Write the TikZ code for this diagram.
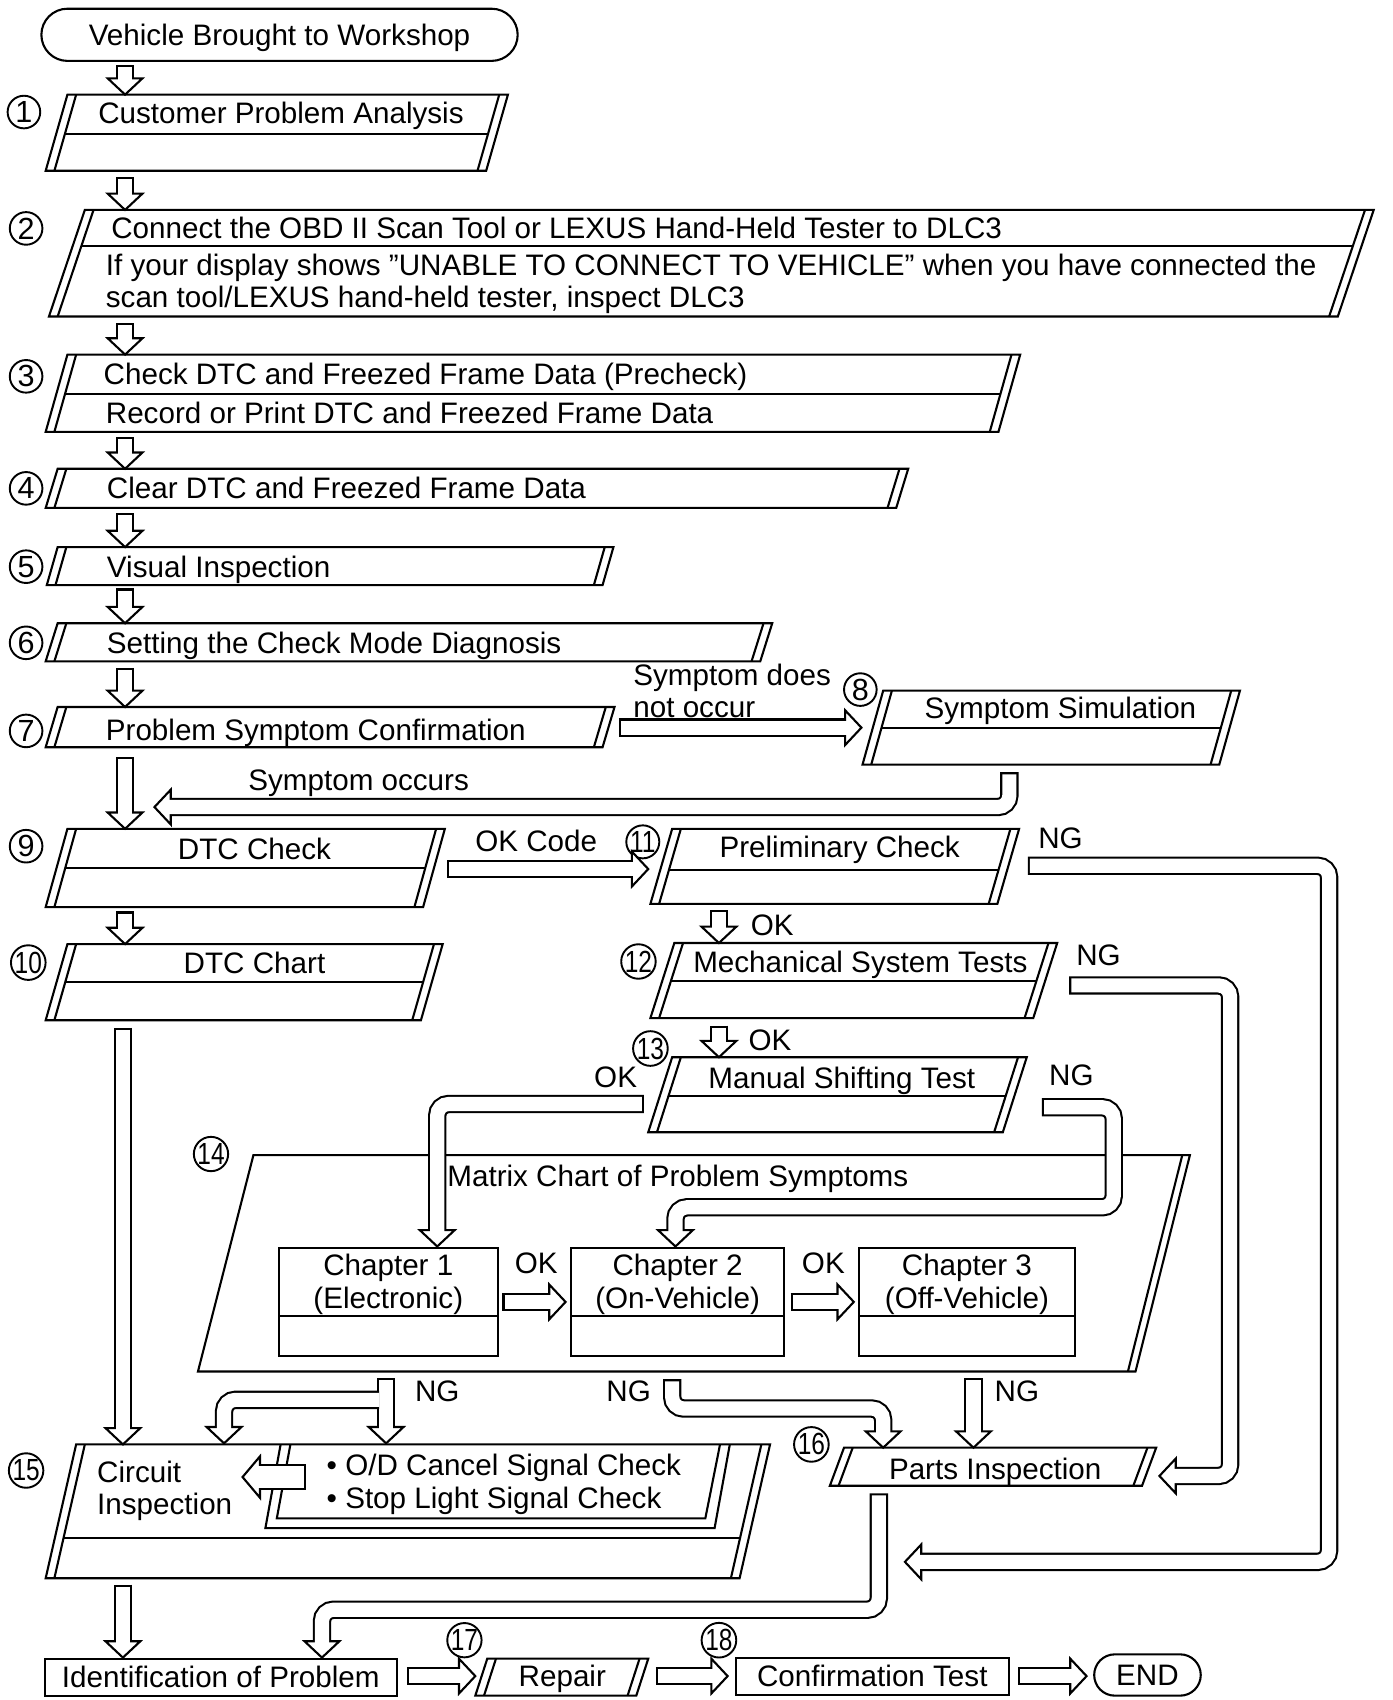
\documentclass[tikz,border=0pt]{standalone}
\usepackage{fontspec}
\setmainfont{Liberation Sans}
\usetikzlibrary{calc,shapes.misc}

\newcommand{\headlen}{15}
\newcommand{\headwid}{16}
\newcommand{\shaftwid}{9.6pt}
\newcommand{\shaftcore}{7.4pt}
\newcommand{\headshort}{8.5pt}
\newcommand{\coreshort}{6.5pt}
\newcommand{\nn}[1]{\scalebox{0.8}[1]{#1}}

\newcommand{\stepbox}[7][]{%
  \draw[boxline] (#3,#5) -- (#4,#5) -- ({#4-#7},#6) -- ({#3-#7},#6) -- cycle;
  \draw[boxline] ({#3+8},#5) -- ({#3+8-#7},#6) ({#4-8},#5) -- ({#4-8-#7},#6);
  \coordinate (#2) at ({(#3+#4-#7)/2},{(#5+#6)/2});
  \if\relax\detokenize{#1}\relax\else
    \draw[boxline] ({#3+8-#7*(#1-#5)/(#6-#5)},#1) -- ({#4-8-#7*(#1-#5)/(#6-#5)},#1);
  \fi}

\newcommand{\hollow}[5][]{%
  \draw[arrowbody] #2;
  \filldraw[arrowhead] ($(#3)+({-\headlen*(#4)+\headwid*(#5)},{-\headlen*(#5)-\headwid*(#4)})$) -- (#3)
    -- ($(#3)+({-\headlen*(#4)-\headwid*(#5)},{-\headlen*(#5)+\headwid*(#4)})$) -- cycle;
  \draw[arrowcore,#1] #2;}

\begin{document}
\begin{tikzpicture}[x=0.02cm, y=-0.02cm,
    boxline/.style={line width=1.1pt},
    arrowbody/.style={line width=\shaftwid, shorten >=\headshort, rounded corners=6pt},
    arrowhead/.style={fill=white, line width=1.1pt},
    arrowcore/.style={white, line width=\shaftcore, shorten <=1.1pt, shorten >=\coreshort, rounded corners=6pt},
    txt/.style={inner sep=0pt, text height=11pt, text depth=0pt, font=\fontsize{15.5}{18}\selectfont},
    num/.style={circle, draw, line width=1pt, inner sep=0pt, minimum size=0.6cm, font=\fontsize{16}{16}\selectfont},
    term/.style={rounded rectangle, draw, line width=1.1pt, inner sep=0pt, text height=11pt, text depth=0pt, font=\fontsize{15.5}{18}\selectfont},
    rectbox/.style={rectangle, draw, line width=1.1pt, inner sep=0pt, text height=11pt, text depth=0pt, font=\fontsize{15.5}{18}\selectfont}]
\useasboundingbox (0,0) rectangle (1280,1563);

\node[term, minimum width=8.76cm, minimum height=0.96cm] (start) at (257,32) {Vehicle Brought to Workshop};

\stepbox[123]{s1}{62}{467}{87}{157}{20}
\stepbox[226]{s2}{78}{1263}{193}{291}{33}
\stepbox[362]{s3}{62}{938}{326}{397}{20}
\stepbox{s4}{53}{835}{431}{467}{11}
\stepbox{s5}{53}{564}{503}{538}{10}
\stepbox{s6}{53}{710}{573}{608}{11}
\stepbox{s7}{53}{565}{650}{687}{11}
\stepbox[669]{s8}{812}{1140}{635}{703}{19}
\stepbox[798]{s9}{62}{409}{762}{834}{20}
\stepbox[800]{s11}{618}{937}{762}{831}{20}
\stepbox[903]{s10}{62}{407}{868}{938}{20}
\stepbox[902]{s12}{620}{972}{867}{936}{22}
\stepbox[1008]{s13}{618}{944}{972}{1041}{22}

\draw[boxline] (233,1062) -- (1094,1062) -- (1044,1261) -- (182,1261) -- cycle;
\draw[boxline] (1087,1062) -- (1037,1261);

\node[rectbox, minimum width=4.02cm, minimum height=2cm] (c1) at (357,1197) {};
\node[rectbox, minimum width=3.92cm, minimum height=2cm] (c2) at (623,1197) {};
\node[rectbox, minimum width=3.98cm, minimum height=2cm] (c3) at (889,1197) {};
\draw[boxline] (256,1210) -- (458,1210);
\draw[boxline] (525,1210) -- (721,1210);
\draw[boxline] (790,1210) -- (988,1210);

\stepbox[1414]{s15}{70}{708}{1328}{1451}{28}
\draw[boxline] (258,1328) -- (244,1405) -- (657,1405) -- (671,1328);
\draw[boxline] (267,1328) -- (254.5,1396) -- (648.5,1396) -- (662,1328);

\stepbox{s16}{776}{1063}{1331}{1366}{13}
\node[rectbox, minimum width=6.48cm, minimum height=0.68cm] (id) at (203,1542) {Identification of Problem};
\stepbox{s17}{448}{596}{1525}{1559}{11}
\node[rectbox, minimum width=5.02cm, minimum height=0.68cm] (ct) at (802,1541) {Confirmation Test};
\node[term, minimum width=1.96cm, minimum height=0.76cm] (end) at (1055,1540) {END};

\node[txt, anchor=west] (t1) at (90,104) {Customer Problem Analysis};
\node[txt, anchor=west] (t2a) at (102,210) {Connect the OBD II Scan Tool or LEXUS Hand-Held Tester to DLC3};
\node[txt, anchor=west] (t2b) at (97,244) {If your display shows ''UNABLE TO CONNECT TO VEHICLE'' when you have connected the};
\node[txt, anchor=west] (t2c) at (97,273) {scan tool/LEXUS hand-held tester, inspect DLC3};
\node[txt, anchor=west] (t3a) at (95,344) {Check DTC and Freezed Frame Data (Precheck)};
\node[txt, anchor=west] (t3b) at (97,380) {Record or Print DTC and Freezed Frame Data};
\node[txt, anchor=west] (t4) at (98,449) {Clear DTC and Freezed Frame Data};
\node[txt, anchor=west] (t5) at (98,521) {Visual Inspection};
\node[txt, anchor=west] (t6) at (98,591) {Setting the Check Mode Diagnosis};
\node[txt, anchor=west] (t7) at (97,671) {Problem Symptom Confirmation};
\node[txt] (t8) at (975,651) {Symptom Simulation};
\node[txt, anchor=west] (nocc1) at (582,621) {Symptom does};
\node[txt, anchor=west] (nocc2) at (582,650) {not occur};
\node[txt, anchor=west] (occ) at (228,717) {Symptom occurs};
\node[txt] (t9) at (234,781) {DTC Check};
\node[txt] (okcode) at (493,773) {OK Code};
\node[txt] (t11) at (772,779) {Preliminary Check};
\node[txt] (ng11) at (975,770) {NG};
\node[txt] (t10) at (234,885) {DTC Chart};
\node[txt] (ok11) at (710,850) {OK};
\node[txt] (t12) at (791,884) {Mechanical System Tests};
\node[txt] (ng12) at (1010,878) {NG};
\node[txt] (ok12) at (708,956) {OK};
\node[txt] (t13) at (774,991) {Manual Shifting Test};
\node[txt] (ng13) at (985,988) {NG};
\node[txt] (ok13) at (566,990) {OK};
\node[txt, anchor=west] (t14) at (411,1081) {Matrix Chart of Problem Symptoms};
\node[txt] (c1a) at (357,1163) {Chapter 1};
\node[txt] (c1b) at (357,1193) {(Electronic)};
\node[txt] (c2a) at (623,1163) {Chapter 2};
\node[txt] (c2b) at (623,1193) {(On-Vehicle)};
\node[txt] (c3a) at (889,1163) {Chapter 3};
\node[txt] (c3b) at (889,1193) {(Off-Vehicle)};
\node[txt] (okc1) at (493,1161) {OK};
\node[txt] (okc2) at (757,1161) {OK};
\node[txt] (ngm1) at (402,1279) {NG};
\node[txt] (ngm2) at (578,1279) {NG};
\node[txt] (ngm3) at (935,1279) {NG};
\node[txt, anchor=west] (t15a) at (89,1353) {Circuit};
\node[txt, anchor=west] (t15b) at (89,1383) {Inspection};
\node[txt, anchor=west] (od1) at (300,1347) {\textbullet\ O/D Cancel Signal Check};
\node[txt, anchor=west] (od2) at (300,1377) {\textbullet\ Stop Light Signal Check};
\node[txt] (t16) at (915,1351) {Parts Inspection};
\node[txt] (t17) at (517,1541) {Repair};

\node[num] (n1) at (22,103) {1};
\node[num] (n2) at (24,210) {2};
\node[num] (n3) at (24,346) {3};
\node[num] (n4) at (24,449) {4};
\node[num] (n5) at (24,521) {5};
\node[num] (n6) at (24,591) {6};
\node[num] (n7) at (24,672) {7};
\node[num] (n8) at (791,634) {8};
\node[num] (n9) at (24,778) {9};
\node[num] (n10) at (26,885) {\nn{10}};
\node[num] (n11) at (591,774) {\nn{11}};
\node[num] (n12) at (587,884) {\nn{12}};
\node[num] (n13) at (598,964) {\nn{13}};
\node[num] (n14) at (194,1061) {\nn{14}};
\node[num] (n15) at (24,1352) {\nn{15}};
\node[num] (n16) at (746,1328) {\nn{16}};
\node[num] (n17) at (427,1508) {\nn{17}};
\node[num] (n18) at (661,1508) {\nn{18}};

\coordinate (start-out) at (115,60);  \coordinate (s1-in) at (115,87);
\coordinate (s1-out) at (115,163);    \coordinate (s2-in) at (115,193);
\coordinate (s2-out) at (115,297);    \coordinate (s3-in) at (115,326);
\coordinate (s3-out) at (115,402);    \coordinate (s4-in) at (115,431);
\coordinate (s4-out) at (115,472);    \coordinate (s5-in) at (115,503);
\coordinate (s5-out) at (115,541);    \coordinate (s6-in) at (115,573);
\coordinate (s6-out) at (115,614);    \coordinate (s7-in) at (115,650);
\coordinate (s7-no) at (569,669);     \coordinate (s8-in) at (792,669);
\coordinate (s8-out) at (928,710);    \coordinate (s9-side) at (142,742);
\coordinate (s7-out) at (115,696);    \coordinate (s9-in) at (115,762);
\coordinate (s9-ok) at (411,799);     \coordinate (s11-in) at (596,799);
\coordinate (s9-out) at (115,838);    \coordinate (s10-in) at (115,868);
\coordinate (s11-out) at (661,837);   \coordinate (s12-in) at (661,867);
\coordinate (s12-out) at (661,943);   \coordinate (s13-in) at (661,972);
\coordinate (s11-ng) at (945,796);    \coordinate (ng11-bend) at (1222,1100); \coordinate (s15-back) at (832,1436);
\coordinate (s12-ng) at (983,906);    \coordinate (ng12-bend) at (1131,1100); \coordinate (s16-in) at (1066,1357);
\coordinate (s13-ng) at (958,1018);   \coordinate (ng13-bend) at (1024,1110); \coordinate (c2-in) at (621,1146);
\coordinate (s13-ok) at (592,1015);   \coordinate (c1-in) at (402,1146);
\coordinate (c1-out) at (462,1197);   \coordinate (c2-left) at (520,1197);
\coordinate (c2-out) at (727,1197);   \coordinate (c3-left) at (785,1197);
\coordinate (s10-out) at (113,945);   \coordinate (s15-in) at (113,1328);
\coordinate (m-ng1) at (355,1267);    \coordinate (od-in) at (355,1327);
\coordinate (m-ng1b) at (348.5,1287); \coordinate (ci-in) at (206,1327);
\coordinate (m-ng2) at (618,1268);    \coordinate (ngm2-bend) at (700,1295); \coordinate (s16-in2) at (812,1331);
\coordinate (m-ng3) at (895,1267);    \coordinate (s16-in3) at (895,1331);
\coordinate (s16-out) at (808,1373);  \coordinate (s16-bend) at (550,1480); \coordinate (id-in2) at (296,1524);
\coordinate (s15-out) at (113,1457);  \coordinate (id-in) at (113,1524);
\coordinate (id-out) at (374,1541);   \coordinate (s17-in) at (437,1541);
\coordinate (s17-out) at (603,1541);  \coordinate (ct-in) at (669,1541);
\coordinate (ct-out) at (936,1541);   \coordinate (end-in) at (999,1541);
\coordinate (od-out) at (281,1358);   \coordinate (ci-side) at (223,1358);

\hollow{(start-out) -- (s1-in)}{s1-in}{0}{1}
\hollow{(s1-out) -- (s2-in)}{s2-in}{0}{1}
\hollow{(s2-out) -- (s3-in)}{s3-in}{0}{1}
\hollow{(s3-out) -- (s4-in)}{s4-in}{0}{1}
\hollow{(s4-out) -- (s5-in)}{s5-in}{0}{1}
\hollow{(s5-out) -- (s6-in)}{s6-in}{0}{1}
\hollow{(s6-out) -- (s7-in)}{s7-in}{0}{1}
\hollow{(s7-no) -- (s8-in)}{s8-in}{1}{0}
\hollow{(s8-out) |- (s9-side)}{s9-side}{-1}{0}
\hollow{(s7-out) -- (s9-in)}{s9-in}{0}{1}
\hollow{(s9-ok) -- (s11-in)}{s11-in}{1}{0}
\hollow{(s9-out) -- (s10-in)}{s10-in}{0}{1}
\hollow{(s11-out) -- (s12-in)}{s12-in}{0}{1}
\hollow{(s12-out) -- (s13-in)}{s13-in}{0}{1}
\hollow{(s11-ng) -| (ng11-bend) |- (s15-back)}{s15-back}{-1}{0}
\hollow{(s12-ng) -| (ng12-bend) |- (s16-in)}{s16-in}{-1}{0}
\hollow{(s13-ng) -| (ng13-bend) -| (c2-in)}{c2-in}{0}{1}
\hollow{(s13-ok) -| (c1-in)}{c1-in}{0}{1}
\hollow{(c1-out) -- (c2-left)}{c2-left}{1}{0}
\hollow{(c2-out) -- (c3-left)}{c3-left}{1}{0}
\hollow{(s10-out) -- (s15-in)}{s15-in}{0}{1}
\hollow{(m-ng1) -- (od-in)}{od-in}{0}{1}
\hollow[shorten <=0pt]{(m-ng1b) -| (ci-in)}{ci-in}{0}{1}
\hollow{(m-ng2) |- (ngm2-bend) -| (s16-in2)}{s16-in2}{0}{1}
\hollow{(m-ng3) -- (s16-in3)}{s16-in3}{0}{1}
\hollow{(s16-out) |- (s16-bend) -| (id-in2)}{id-in2}{0}{1}
\hollow{(s15-out) -- (id-in)}{id-in}{0}{1}
\hollow{(id-out) -- (s17-in)}{s17-in}{1}{0}
\hollow{(s17-out) -- (ct-in)}{ct-in}{1}{0}
\hollow{(ct-out) -- (end-in)}{end-in}{1}{0}
{\renewcommand{\headlen}{16}\renewcommand{\headwid}{19}%
 \renewcommand{\shaftwid}{13.6pt}\renewcommand{\shaftcore}{11.4pt}%
 \renewcommand{\headshort}{9.1pt}\renewcommand{\coreshort}{7.1pt}%
 \hollow{(od-out) -- (ci-side)}{ci-side}{-1}{0}}
\end{tikzpicture}
\end{document}
